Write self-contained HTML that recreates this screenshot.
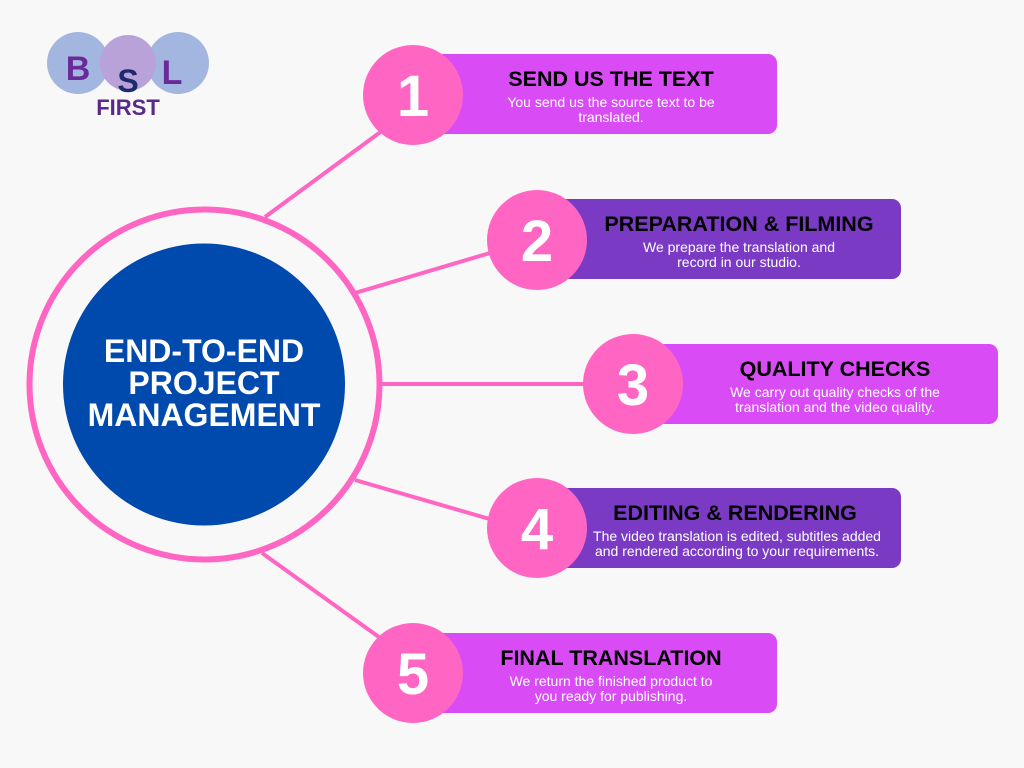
<!DOCTYPE html>
<html><head><meta charset="utf-8"><style>
html,body{margin:0;padding:0;background:#f8f8f8;}
svg{display:block;}
text{font-family:"Liberation Sans","DejaVu Sans",sans-serif;}
</style></head><body>
<svg width="1024" height="768" viewBox="0 0 1024 768" xmlns="http://www.w3.org/2000/svg">
<rect width="1024" height="768" fill="#f8f8f8"/>
<!-- logo -->
<circle cx="78" cy="63" r="31" fill="#a3b6e0"/>
<circle cx="178" cy="63" r="31" fill="#a3b6e0"/>
<circle cx="128" cy="63" r="28" fill="#b9a2d8"/>
<text x="78" y="80" font-size="34" font-weight="bold" fill="#6a2a9a" text-anchor="middle">B</text>
<text x="128" y="92" font-size="32" font-weight="bold" fill="#1e2a6e" text-anchor="middle">S</text>
<text x="172" y="84" font-size="34" font-weight="bold" fill="#6a2a9a" text-anchor="middle">L</text>
<text x="128" y="115" font-size="22" font-weight="bold" fill="#5a2a8a" text-anchor="middle">FIRST</text>
<!-- connectors -->
<g stroke="#ff66c4" stroke-width="4" fill="none">
<line x1="265" y1="217" x2="390" y2="125"/>
<line x1="355" y1="293" x2="500" y2="250"/>
<line x1="382" y1="384" x2="600" y2="384"/>
<line x1="355" y1="480" x2="500" y2="522"/>
<line x1="262" y1="553" x2="390" y2="645"/>
</g>
<circle cx="204.5" cy="384.5" r="175" fill="none" stroke="#ff66c4" stroke-width="6"/>
<circle cx="204" cy="384.5" r="141" fill="#004aad"/>
<g fill="#fff" font-size="32" font-weight="bold" text-anchor="middle">
<text x="204" y="362">END-TO-END</text>
<text x="204" y="394">PROJECT</text>
<text x="204" y="426">MANAGEMENT</text>
</g>
<!-- boxes -->
<rect x="433" y="54" width="344" height="80" rx="9" fill="#d94cf5"/>
<rect x="557" y="199" width="344" height="80" rx="9" fill="#7b3ac4"/>
<rect x="655" y="344" width="343" height="80" rx="9" fill="#d94cf5"/>
<rect x="557" y="488" width="344" height="80" rx="9" fill="#7b3ac4"/>
<rect x="433" y="633" width="344" height="80" rx="9" fill="#d94cf5"/>
<g fill="#ff66c4">
<circle cx="413" cy="95" r="50"/>
<circle cx="537" cy="240" r="50"/>
<circle cx="633" cy="384" r="50"/>
<circle cx="537" cy="528" r="50"/>
<circle cx="413" cy="673" r="50"/>
</g>
<g fill="#fff" font-size="58" font-weight="bold" text-anchor="middle">
<text x="413" y="116">1</text>
<text x="537" y="261">2</text>
<text x="633" y="405">3</text>
<text x="537" y="549">4</text>
<text x="413" y="694">5</text>
</g>
<g fill="#000" font-size="21.5" font-weight="bold" text-anchor="middle">
<text x="611" y="86">SEND US THE TEXT</text>
<text x="739" y="231">PREPARATION &amp; FILMING</text>
<text x="835" y="376">QUALITY CHECKS</text>
<text x="735" y="520">EDITING &amp; RENDERING</text>
<text x="611" y="665">FINAL TRANSLATION</text>
</g>
<g fill="#fff" font-size="14" text-anchor="middle">
<text x="611" y="107">You send us the source text to be</text>
<text x="611" y="122">translated.</text>
<text x="739" y="252">We prepare the translation and</text>
<text x="739" y="267">record in our studio.</text>
<text x="835" y="397">We carry out quality checks of the</text>
<text x="835" y="412">translation and the video quality.</text>
<text x="737" y="541">The video translation is edited, subtitles added</text>
<text x="737" y="556">and rendered according to your requirements.</text>
<text x="611" y="686">We return the finished product to</text>
<text x="611" y="701">you ready for publishing.</text>
</g>
</svg>
</body></html>
